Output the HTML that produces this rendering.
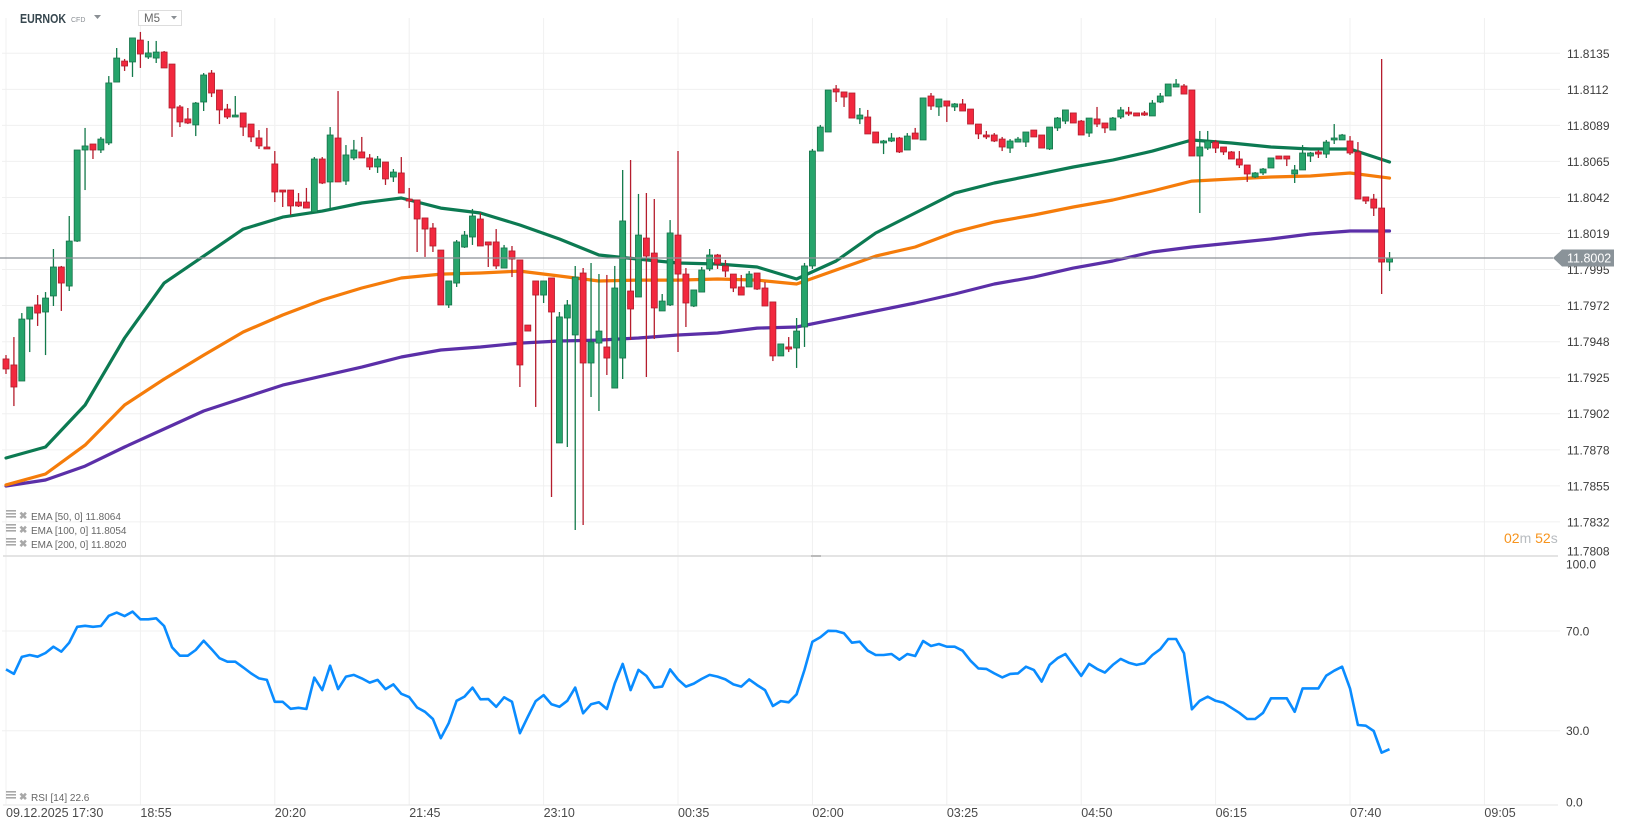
<!DOCTYPE html>
<html><head><meta charset="utf-8"><title>EURNOK M5</title>
<style>
html,body{margin:0;padding:0;background:#fff;}
body{width:1626px;height:831px;overflow:hidden;font-family:"Liberation Sans",Arial,sans-serif;}
svg text{font-family:"Liberation Sans",Arial,sans-serif;}
</style></head>
<body>
<svg id="chart" width="1626" height="831" viewBox="0 0 1626 831" xmlns="http://www.w3.org/2000/svg">
  <g id="grid"></g>
  <g id="emas"></g>
  <g id="candles"></g>
  <g id="rsi"></g>
  <g id="axes"></g>
  <g>
    <text x="20" y="23" font-size="12.5" font-weight="bold" fill="#37474f" textLength="46" lengthAdjust="spacingAndGlyphs">EURNOK</text>
    <text x="71" y="22" font-size="7" fill="#8a8f94">CFD</text>
    <path d="M94 15 L101 15 L97.5 19 Z" fill="#8a8f94"/>
    <rect x="138.5" y="10.5" width="43" height="15" fill="#fff" stroke="#ddd"/>
    <text x="144" y="22" font-size="11.5" fill="#666">M5</text>
    <path d="M171 16 L177 16 L174 19.5 Z" fill="#8a8f94"/>
  </g>
</svg>
<script>
// ---------- data ----------
const opens = [11.79324,11.79284,11.79177,11.79590,11.79684,11.79637,11.79744,11.79937,11.79810,11.80110,11.80717,11.80757,11.80717,11.80764,11.81170,11.81310,11.81304,11.81450,11.81337,11.81330,11.81370,11.81290,11.81004,11.80924,11.80884,11.81037,11.81230,11.81117,11.80990,11.80937,11.80964,11.80890,11.80797,11.80737,11.80624,11.80450,11.80450,11.80370,11.80370,11.80304,11.80657,11.80504,11.80797,11.80510,11.80664,11.80704,11.80664,11.80604,11.80637,11.80537,11.80564,11.80390,11.80384,11.80264,11.80197,11.80050,11.79684,11.79830,11.80070,11.80137,11.80257,11.80104,11.80104,11.79930,11.80044,11.79984,11.79550,11.79844,11.79750,11.79864,11.78764,11.79597,11.79484,11.79897,11.79297,11.79430,11.79404,11.79130,11.79330,11.79777,11.79737,11.80130,11.80030,11.79644,11.79684,11.80150,11.79890,11.79677,11.79770,11.79924,11.80017,11.79944,11.79890,11.79804,11.79804,11.79897,11.79797,11.79704,11.79344,11.79404,11.79397,11.79537,11.79944,11.80710,11.80837,11.81124,11.81104,11.81097,11.80924,11.80937,11.80837,11.80764,11.80777,11.80797,11.80717,11.80830,11.80784,11.81077,11.81004,11.81044,11.81004,11.81024,11.80990,11.80890,11.80817,11.80817,11.80790,11.80730,11.80770,11.80770,11.80850,11.80817,11.80724,11.80864,11.80910,11.80964,11.80910,11.80830,11.80924,11.80897,11.80850,11.80937,11.80970,11.80964,11.80964,11.80944,11.81037,11.81077,11.81137,11.81144,11.81117,11.80677,11.80730,11.80770,11.80737,11.80704,11.80657,11.80617,11.80537,11.80564,11.80597,11.80677,11.80677,11.80557,11.80584,11.80677,11.80704,11.80690,11.80784,11.80784,11.80777,11.80704,11.80404,11.80390,11.80330,11.79970];
const highs = [11.79350,11.79470,11.79630,11.79670,11.79750,11.79770,11.80057,11.79944,11.80277,11.80717,11.80864,11.80757,11.80804,11.81210,11.81397,11.81324,11.81464,11.81504,11.81444,11.81444,11.81377,11.81290,11.81017,11.80997,11.81037,11.81230,11.81250,11.81117,11.81024,11.81077,11.80964,11.80890,11.80850,11.80864,11.80710,11.80450,11.80450,11.80430,11.80464,11.80670,11.80670,11.80870,11.81110,11.80750,11.80784,11.80804,11.80690,11.80677,11.80637,11.80590,11.80670,11.80464,11.80384,11.80264,11.80230,11.80050,11.79844,11.80117,11.80177,11.80324,11.80297,11.80104,11.80190,11.80084,11.80077,11.79984,11.79550,11.79844,11.79844,11.79864,11.79637,11.79717,11.79944,11.79930,11.79964,11.79890,11.79884,11.79944,11.80584,11.80650,11.80424,11.80430,11.80390,11.79757,11.80250,11.80710,11.79930,11.79784,11.79937,11.80057,11.80024,11.79984,11.79890,11.79884,11.79910,11.79897,11.79837,11.79704,11.79424,11.79470,11.79597,11.79964,11.80724,11.80884,11.81117,11.81150,11.81104,11.81097,11.80997,11.80984,11.80837,11.80784,11.80830,11.80804,11.80830,11.80864,11.81064,11.81097,11.81057,11.81044,11.81030,11.81057,11.80990,11.80890,11.80844,11.80830,11.80804,11.80790,11.80804,11.80837,11.80850,11.80817,11.80870,11.80937,11.80984,11.80964,11.80917,11.80930,11.81004,11.80897,11.80937,11.81004,11.81004,11.80964,11.80977,11.81050,11.81097,11.81157,11.81190,11.81157,11.81117,11.80844,11.80844,11.80784,11.80737,11.80710,11.80710,11.80617,11.80570,11.80597,11.80664,11.80677,11.80677,11.80617,11.80750,11.80704,11.80717,11.80784,11.80890,11.80824,11.80810,11.80770,11.80404,11.80424,11.81324,11.80037];
const lows = [11.79224,11.79010,11.79177,11.79370,11.79544,11.79350,11.79677,11.79644,11.79777,11.80104,11.80450,11.80657,11.80697,11.80750,11.81170,11.81244,11.81204,11.81264,11.81324,11.81297,11.81264,11.80804,11.80870,11.80890,11.80810,11.80977,11.81070,11.80890,11.80924,11.80937,11.80810,11.80770,11.80724,11.80724,11.80370,11.80337,11.80284,11.80337,11.80330,11.80297,11.80490,11.80330,11.80504,11.80484,11.80650,11.80664,11.80584,11.80564,11.80484,11.80504,11.80430,11.80330,11.80037,11.80004,11.80037,11.79684,11.79664,11.79804,11.80064,11.80084,11.80077,11.79937,11.79924,11.79930,11.79870,11.79137,11.79510,11.79004,11.79697,11.78404,11.78764,11.78737,11.78184,11.78217,11.79070,11.78977,11.79217,11.79130,11.79190,11.79450,11.79737,11.79204,11.79457,11.79644,11.79677,11.79370,11.79537,11.79670,11.79770,11.79910,11.79924,11.79870,11.79770,11.79750,11.79804,11.79784,11.79677,11.79310,11.79344,11.79370,11.79264,11.79404,11.79924,11.80710,11.80837,11.81037,11.81004,11.80930,11.80890,11.80824,11.80764,11.80690,11.80770,11.80697,11.80717,11.80790,11.80784,11.80984,11.80944,11.80904,11.80977,11.80977,11.80890,11.80790,11.80790,11.80770,11.80710,11.80697,11.80770,11.80737,11.80804,11.80730,11.80717,11.80844,11.80890,11.80897,11.80817,11.80804,11.80870,11.80830,11.80850,11.80924,11.80944,11.80944,11.80944,11.80944,11.81030,11.81077,11.81137,11.81090,11.80677,11.80297,11.80717,11.80697,11.80684,11.80657,11.80597,11.80504,11.80530,11.80550,11.80597,11.80657,11.80610,11.80497,11.80584,11.80637,11.80664,11.80664,11.80757,11.80784,11.80684,11.80390,11.80357,11.80277,11.79757,11.79910];
const closes = [11.79257,11.79137,11.79590,11.79670,11.79630,11.79730,11.79937,11.79830,11.80110,11.80717,11.80744,11.80717,11.80790,11.81164,11.81330,11.81277,11.81464,11.81357,11.81364,11.81370,11.81264,11.80997,11.80904,11.80897,11.81030,11.81217,11.81097,11.80984,11.80937,11.80950,11.80870,11.80804,11.80744,11.80724,11.80437,11.80437,11.80344,11.80344,11.80330,11.80657,11.80497,11.80817,11.80504,11.80684,11.80717,11.80664,11.80604,11.80657,11.80524,11.80570,11.80430,11.80377,11.80257,11.80190,11.80077,11.79684,11.79844,11.80104,11.80150,11.80277,11.80077,11.80084,11.79944,11.80064,11.79990,11.79284,11.79510,11.79750,11.79844,11.79637,11.79604,11.79684,11.79870,11.79297,11.79437,11.79510,11.79330,11.79797,11.80244,11.79657,11.80150,11.80010,11.79664,11.79710,11.80164,11.79890,11.79697,11.79784,11.79917,11.80017,11.79957,11.79910,11.79797,11.79750,11.79890,11.79790,11.79677,11.79344,11.79424,11.79390,11.79510,11.79944,11.80710,11.80870,11.81117,11.81104,11.81070,11.80930,11.80950,11.80824,11.80764,11.80777,11.80797,11.80704,11.80810,11.80790,11.81064,11.81010,11.81057,11.81010,11.81024,11.80977,11.80890,11.80824,11.80804,11.80777,11.80737,11.80777,11.80790,11.80837,11.80804,11.80730,11.80870,11.80930,11.80984,11.80897,11.80817,11.80930,11.80890,11.80864,11.80930,11.80984,11.80957,11.80944,11.80950,11.81030,11.81077,11.81157,11.81157,11.81090,11.80677,11.80737,11.80777,11.80730,11.80704,11.80657,11.80617,11.80557,11.80564,11.80590,11.80664,11.80657,11.80657,11.80584,11.80697,11.80697,11.80690,11.80770,11.80797,11.80817,11.80697,11.80390,11.80377,11.80330,11.79970,11.79997];
// EMA values sampled every 5 candles
const ema50 = [11.78664,11.78737,11.79017,11.79464,11.79830,11.80010,11.80190,11.80270,11.80310,11.80364,11.80397,11.80330,11.80297,11.80217,11.80124,11.80017,11.79990,11.79964,11.79957,11.79937,11.79857,11.79977,11.80164,11.80297,11.80430,11.80497,11.80550,11.80604,11.80650,11.80710,11.80784,11.80764,11.80737,11.80724,11.80724,11.80637];
const ema100 = [11.78484,11.78557,11.78750,11.79017,11.79190,11.79350,11.79504,11.79617,11.79717,11.79797,11.79864,11.79890,11.79897,11.79910,11.79877,11.79844,11.79850,11.79850,11.79857,11.79850,11.79824,11.79917,11.80010,11.80070,11.80170,11.80237,11.80284,11.80337,11.80384,11.80444,11.80510,11.80524,11.80537,11.80544,11.80564,11.80530];
const ema200 = [11.78477,11.78517,11.78610,11.78737,11.78857,11.78977,11.79064,11.79150,11.79210,11.79270,11.79337,11.79384,11.79404,11.79430,11.79444,11.79450,11.79464,11.79484,11.79497,11.79530,11.79537,11.79590,11.79644,11.79697,11.79757,11.79824,11.79870,11.79930,11.79977,11.80037,11.80070,11.80097,11.80124,11.80157,11.80177,11.80177];
const emaStep = 5;
const rsiValues = [54.6,52.8,59.6,60.4,59.7,61.2,63.7,61.7,65.3,71.7,72.1,71.7,72.0,76.1,77.4,76.0,77.8,74.7,74.7,75.1,72.0,63.5,60.1,60.1,62.4,66.1,62.7,59.1,57.7,57.7,55.4,53.0,51.0,50.4,41.6,41.6,38.8,39.2,38.7,51.3,46.3,56.1,46.7,51.7,52.4,51.0,49.3,50.4,46.7,48.6,44.8,43.5,39.3,37.6,34.7,27.0,33.0,42.0,43.7,47.3,42.6,42.7,39.6,43.4,41.6,29.0,35.6,41.9,44.3,40.6,39.6,42.0,47.3,37.0,40.6,41.4,38.7,49.0,56.8,46.3,54.4,52.0,47.3,47.7,54.6,50.6,47.7,48.9,50.8,52.4,51.7,50.6,48.6,47.7,50.6,48.3,46.3,39.9,41.9,41.4,44.6,54.4,65.7,67.5,70.1,70.0,69.1,65.3,65.7,62.1,60.4,60.4,60.8,58.5,60.8,60.0,66.0,64.0,64.8,63.7,63.7,62.1,58.1,55.0,54.8,53.0,51.4,52.8,53.0,55.7,54.4,49.7,56.4,59.1,60.8,56.4,52.0,56.8,54.8,53.3,56.4,58.8,57.3,56.4,57.1,60.4,62.7,66.8,66.8,61.1,38.6,42.0,43.7,42.0,41.2,39.2,37.2,34.7,34.7,37.2,43.0,43.0,43.0,37.6,47.0,47.0,47.0,52.1,54.1,55.7,47.0,32.3,32.0,29.9,21.2,22.6];
const priceTickVals = [11.81362,11.81121,11.80881,11.80641,11.80400,11.80160,11.79920,11.79680,11.79439,11.79199,11.78959,11.78718,11.78478,11.78238,11.77998];
const priceTickLabels = ["11.8135","11.8112","11.8089","11.8065","11.8042","11.8019","11.7995","11.7972","11.7948","11.7925","11.7902","11.7878","11.7855","11.7832","11.7808"];
const rsiTickVals = [100,70,30,0];
const rsiTickLabels = ["100.0","70.0","30.0","0.0"];
const timeLabels = ["09.12.2025  17:30","18:55","20:20","21:45","23:10","00:35","02:00","03:25","04:50","06:15","07:40","09:05"];
const candlesPerTimeLabel = 17;
const emaLegend = [["EMA [50,  0]","11.8064"],["EMA [100,  0]","11.8054"],["EMA [200,  0]","11.8020"]];
const rsiLegend = ["RSI [14]","22.6"];
const currentPriceLabel = "11.8002";

// ---------- axis functions ----------
const NS = "http://www.w3.org/2000/svg";
const X0 = 6, STEP = 7.906;
function xOf(i){ return X0 + i*STEP; }
function yPrice(p){ return (11.81717 - p)*15000; }
function yRsi(v){ return 805.5 - v*2.4925; }
const PLOT_RIGHT = 1560, DIVIDER_Y = 556, BOTTOM_Y = 805;

function el(tag, attrs, parent){
  const e = document.createElementNS(NS, tag);
  for (const k in attrs) e.setAttribute(k, attrs[k]);
  parent.appendChild(e);
  return e;
}
const gGrid = document.getElementById('grid');
const gEma = document.getElementById('emas');
const gC = document.getElementById('candles');
const gR = document.getElementById('rsi');
const gA = document.getElementById('axes');

timeLabels.forEach((t, k) => {
  const x = xOf(k*candlesPerTimeLabel);
  const ln = el('line', {x1:x, x2:x, y1:18, y2:BOTTOM_Y, stroke:'#f0f0f0', 'stroke-width':1}, gGrid);
  
  
  const tx = el('text', {x:x, y:817, 'font-size':12.5, fill:'#4a4a4a', 'xml:space':'preserve'}, gA);
  tx.textContent = t;
  
  
});

priceTickVals.forEach((v, i) => {
  const y = yPrice(v);
  if (y < DIVIDER_Y - 2) {
    const ln = el('line', {x1:2, x2:PLOT_RIGHT, y1:y, y2:y, stroke:'#f0f0f0', 'stroke-width':1}, gGrid);
    
    
  }
  const tx = el('text', {x:1567, y:Math.min(y, 551)+4.5, 'font-size':12, fill:'#3c3c3c'}, gA);
  tx.textContent = priceTickLabels[i];
  
  
});

rsiTickVals.forEach((v, i) => {
  const y = yRsi(v);
  if (v > 0 && v < 100) {
    const ln = el('line', {x1:2, x2:PLOT_RIGHT, y1:y, y2:y, stroke:'#f0f0f0', 'stroke-width':1}, gGrid);
    
    
  }
  const ly = Math.max(564, Math.min(y, 802));
  const tx = el('text', {x:1566, y:ly+4.5, 'font-size':12, fill:'#3c3c3c'}, gA);
  tx.textContent = rsiTickLabels[i];
  
  
});

const dv = el('line', {x1:3, x2:1558, y1:DIVIDER_Y, y2:DIVIDER_Y, stroke:'#dcdcdc', 'stroke-width':1.5}, gA);


const hd = el('rect', {x:811, y:555, width:10, height:2, fill:'#bbb'}, gA);


const bl = el('line', {x1:3, x2:1558, y1:BOTTOM_Y, y2:BOTTOM_Y, stroke:'#e6e6e6', 'stroke-width':1}, gA);



function emaLine(arr, color, name){
  const pts = arr.map((v, j) => xOf(j*emaStep).toFixed(1) + ',' + yPrice(v).toFixed(1)).join(' ');
  const pl = el('polyline', {points:pts, fill:'none', stroke:color, 'stroke-width':3.2, 'stroke-linejoin':'round', 'stroke-linecap':'round'}, gEma);
  
  
}
emaLine(ema200, '#5b2fa8', 'ema-200-line');
emaLine(ema100, '#f57c0a', 'ema-100-line');
emaLine(ema50, '#0c7a52', 'ema-50-line');

const lastY = yPrice(closes[closes.length-1]);
const cpl = el('line', {x1:0, x2:1553, y1:lastY, y2:lastY, stroke:'#8c9196', 'stroke-width':1.2}, gA);



opens.forEach((o, i) => {
  const c = closes[i], h = highs[i], l = lows[i];
  const up = c >= o;
  const x = xOf(i);
  const g = el('g', {}, gC);
  
  
  el('line', {x1:x, x2:x, y1:yPrice(h), y2:yPrice(l), stroke: up ? '#137a4b' : '#b51d2d', 'stroke-width':1.3}, g);
  const top = yPrice(Math.max(o, c)), bot = yPrice(Math.min(o, c));
  el('rect', {x:x-3, y:top, width:6, height:Math.max(bot-top, 1.2), fill: up ? '#26a46b' : '#f2283e', stroke: up ? '#157249' : '#b01c2c', 'stroke-width':0.8}, g);
});

const rpts = rsiValues.map((v, i) => xOf(i).toFixed(1) + ',' + yRsi(v).toFixed(1)).join(' ');
const rl = el('polyline', {points:rpts, fill:'none', stroke:'#0a8cff', 'stroke-width':2.6, 'stroke-linejoin':'round'}, gR);



function legendIcon(y, parent){
  for (let k = 0; k < 3; k++) el('rect', {x:6, y:y-6+k*3, width:10, height:1.6, fill:'#a8a8a8'}, parent);
  const xx = el('text', {x:19, y:y+3, 'font-size':10, fill:'#a8a8a8', 'font-weight':'bold'}, parent);
  xx.textContent = '✖';
}
emaLegend.forEach((e, i) => {
  const y = 516 + i*14;
  const g = el('g', {}, gA);
  
  
  legendIcon(y, g);
  const t = el('text', {x:31, y:y+4, 'font-size':10, fill:'#666', 'xml:space':'preserve'}, g);
  t.textContent = e[0] + ' ' + e[1];
});
{
  const g = el('g', {}, gA);
  
  
  legendIcon(797, g);
  const t = el('text', {x:31, y:801, 'font-size':10, fill:'#666', 'xml:space':'preserve'}, g);
  t.textContent = rsiLegend[0] + ' ' + rsiLegend[1];
}

{
  const g = el('g', {}, gA);
  
  
  const y = lastY;
  el('path', {d:`M1553 ${y} L1562 ${y-8.5} L1614 ${y-8.5} L1614 ${y+8.5} L1562 ${y+8.5} Z`, fill:'#8a9399'}, g);
  const t = el('text', {x:1567, y:y+4.5, 'font-size':12.5, fill:'#fff'}, g);
  t.textContent = currentPriceLabel;
}

{
  const t = el('text', {x:1504, y:543, 'font-size':14}, gA);
  
  
  t.innerHTML = '<tspan fill="#f7941d">02</tspan><tspan fill="#b8bcc0">m </tspan><tspan fill="#f7941d">52</tspan><tspan fill="#b8bcc0">s</tspan>';
}
</script>
</body></html>
